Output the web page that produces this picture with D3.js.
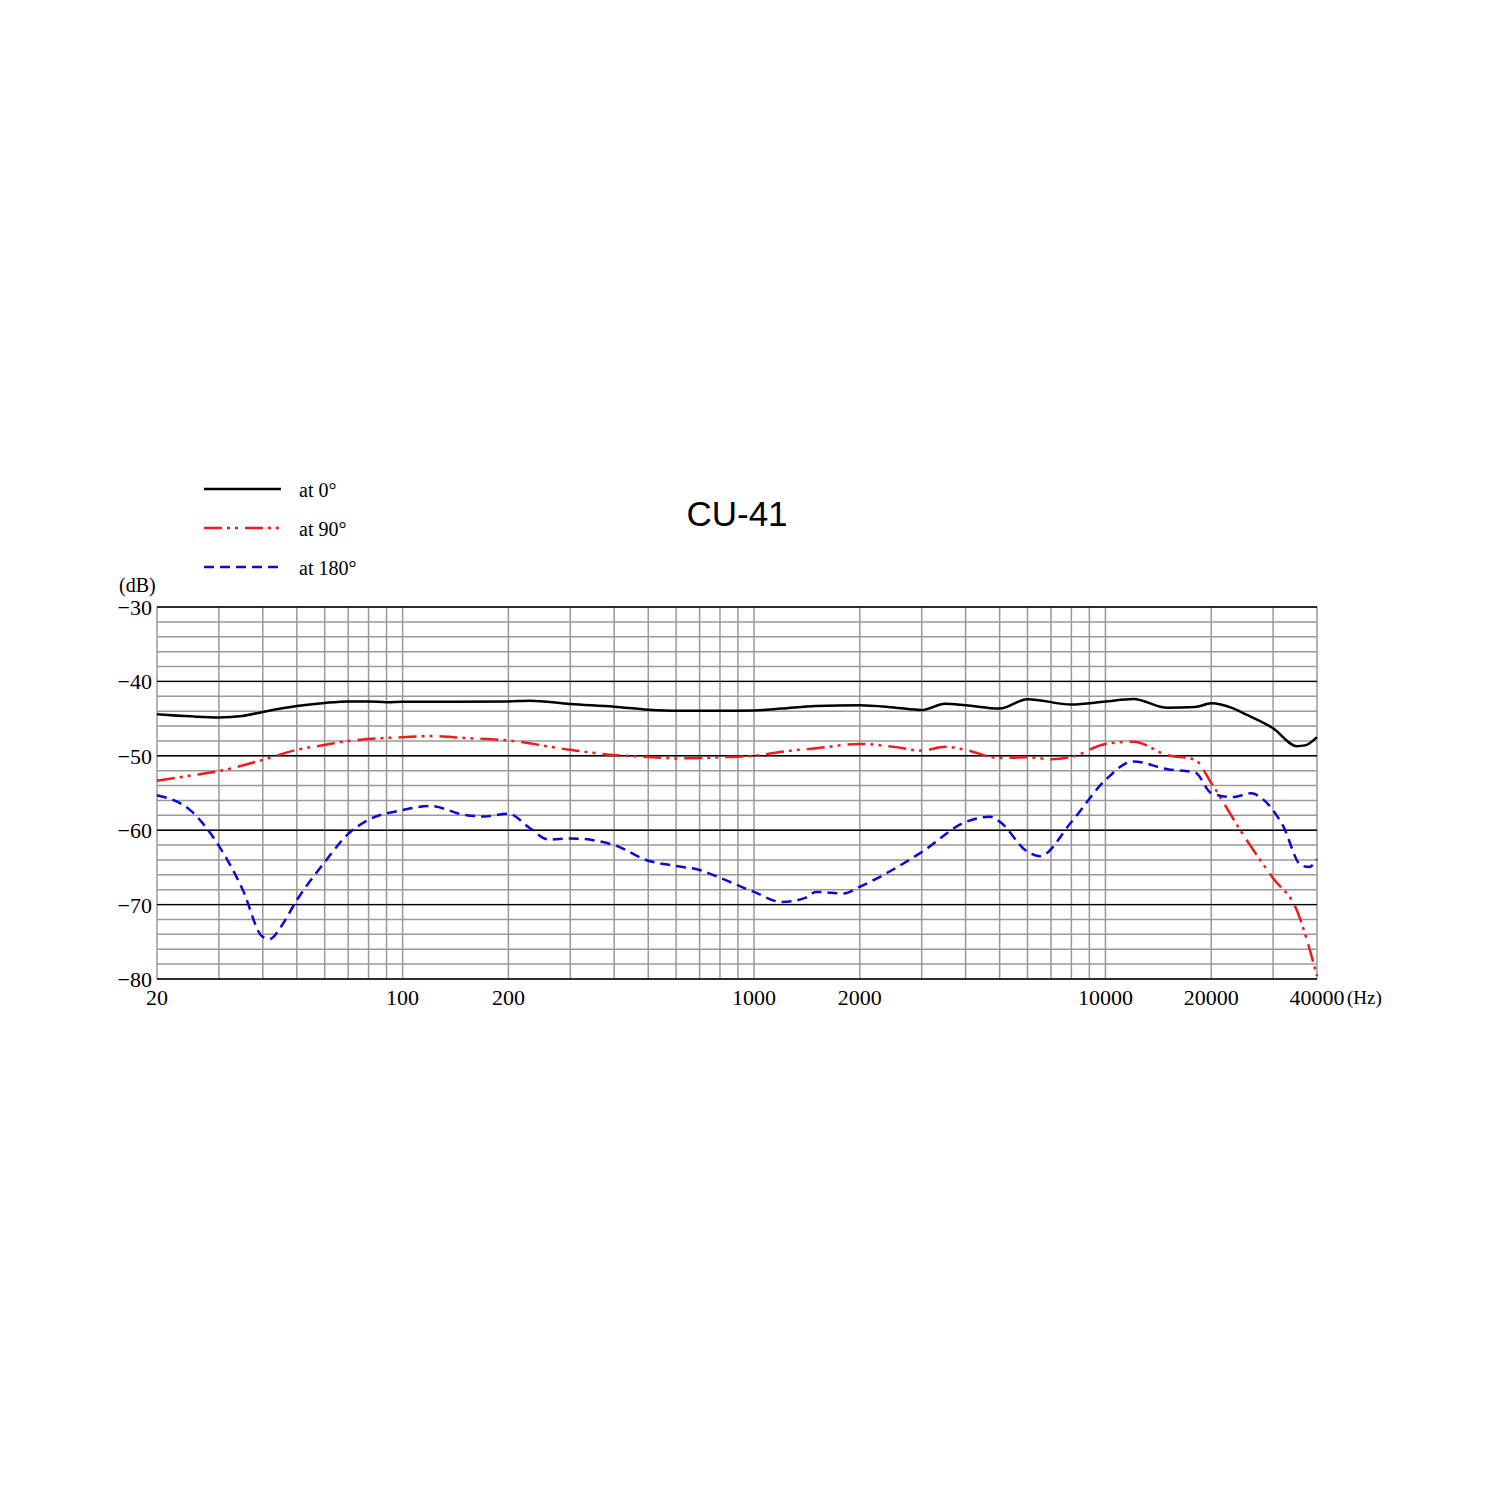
<!DOCTYPE html>
<html>
<head>
<meta charset="utf-8">
<script src="https://cdn.jsdelivr.net/npm/d3@7"></script>
<style>
  body { margin: 0; background: #fff; }
  svg { display: block; }
</style>
</head>
<body>
<svg id="chart" width="1500" height="1500"></svg>
<script>
// Data (frequency in Hz, level in dB)
const freq0 = [20, 25, 30, 35, 40, 50, 60, 70, 80, 90, 100, 200, 230, 300, 400, 500, 600, 800, 1000, 1200, 1500, 2000, 2500, 3000, 3500, 4000, 5000, 6000, 8000, 10000, 12000, 15000, 18000, 20000, 23000, 25000, 30000, 35000, 37000, 40000];
const db0 = [-44.4, -44.7, -44.85, -44.65, -44.1, -43.3, -42.9, -42.7, -42.7, -42.8, -42.75, -42.7, -42.6, -43.05, -43.4, -43.8, -43.95, -43.95, -43.9, -43.65, -43.3, -43.2, -43.5, -43.85, -43.0, -43.2, -43.65, -42.4, -43.1, -42.7, -42.35, -43.55, -43.45, -42.95, -43.6, -44.4, -46.3, -48.7, -48.6, -47.5];

const freq90 = [20, 25, 30, 40, 50, 60, 70, 80, 100, 120, 150, 200, 300, 400, 500, 600, 800, 1000, 1200, 1500, 2000, 2500, 3000, 3500, 4000, 5000, 6000, 7000, 8000, 10000, 12000, 15000, 18000, 20000, 25000, 30000, 35000, 40000];
const db90 = [-53.35, -52.65, -52.05, -50.55, -49.2, -48.55, -48.0, -47.75, -47.5, -47.35, -47.6, -47.95, -49.2, -49.9, -50.15, -50.35, -50.2, -50.0, -49.45, -49.0, -48.4, -48.8, -49.3, -48.8, -49.2, -50.3, -50.2, -50.45, -50.15, -48.4, -48.1, -49.9, -50.55, -53.65, -61.05, -66.45, -70.7, -79.6];

const freq180 = [20, 25, 30, 35, 40, 42, 45, 50, 60, 70, 80, 100, 120, 150, 170, 200, 230, 260, 300, 400, 500, 600, 700, 800, 1000, 1200, 1400, 1500, 1800, 2000, 3000, 4000, 4700, 5000, 6000, 6500, 8000, 10000, 12000, 15000, 18000, 20000, 23000, 26000, 28000, 32000, 36000, 38000, 40000];
const db180 = [-55.3, -57.4, -62.1, -67.9, -74.35, -74.6, -73.0, -69.4, -64.3, -60.5, -58.6, -57.3, -56.75, -57.95, -58.15, -57.8, -59.7, -61.25, -61.1, -62.0, -64.1, -64.8, -65.35, -66.4, -68.3, -69.65, -69.1, -68.3, -68.5, -67.6, -62.95, -58.9, -58.2, -58.85, -62.9, -63.5, -58.9, -53.25, -50.75, -51.8, -52.25, -55.0, -55.55, -55.05, -55.8, -59.4, -64.7, -64.95, -63.9];

const seriesNames = ["at 0°", "at 90°", "at 180°"];
const xTickLabels = [20, 100, 200, 1000, 2000, 10000, 20000, 40000];
const yTickLabels = [-30, -40, -50, -60, -70, -80];

const svg = d3.select("#chart");
const plotL = 157, plotR = 1317, plotT = 607, plotB = 979;

const x = d3.scaleLog().domain([20, 40000]).range([plotL, plotR]);
const y = d3.scaleLinear().domain([-80, -30]).range([plotB, plotT]);

const serif = "'Liberation Serif', 'DejaVu Serif', serif";

// grid: vertical lines at 1..9 x each decade
const vLines = [];
[10, 100, 1000, 10000].forEach(dec => {
  for (let m = 1; m <= 9; m++) {
    const f = dec * m;
    if (f >= 20 && f <= 40000) vLines.push(f);
  }
});

const grid = svg.append("g");
grid.selectAll(".hminor")
  .data(d3.range(-80, -29, 2))
  .join("line")
    .attr("x1", plotL).attr("x2", plotR)
    .attr("y1", d => y(d)).attr("y2", d => y(d))
    .attr("stroke", "#9a9a9a")
    .attr("stroke-width", 1.5);

grid.selectAll(".v")
  .data(vLines)
  .join("line")
    .attr("x1", d => x(d)).attr("x2", d => x(d))
    .attr("y1", plotT).attr("y2", plotB)
    .attr("stroke", "#9a9a9a")
    .attr("stroke-width", 1.5);

// black majors on top
grid.selectAll(".hmajor")
  .data(yTickLabels)
  .join("line")
    .attr("x1", plotL).attr("x2", plotR)
    .attr("y1", d => y(d)).attr("y2", d => y(d))
    .attr("stroke", "#000")
    .attr("stroke-width", 1.4);

// y tick labels
svg.append("g").selectAll("text")
  .data(yTickLabels)
  .join("text")
    .attr("x", 152)
    .attr("y", d => y(d) + 8)
    .attr("text-anchor", "end")
    .attr("font-family", serif)
    .attr("font-size", 22)
    .text(d => "\u2212" + Math.abs(d));

svg.append("text")
  .attr("x", 119).attr("y", 592)
  .attr("font-family", serif).attr("font-size", 20)
  .text("(dB)");

// x tick labels
svg.append("g").selectAll("text")
  .data(xTickLabels)
  .join("text")
    .attr("x", d => x(d))
    .attr("y", plotB + 26)
    .attr("text-anchor", "middle")
    .attr("font-family", serif)
    .attr("font-size", 22)
    .text(d => d);

svg.append("text")
  .attr("x", 1347).attr("y", plotB + 25)
  .attr("font-family", serif).attr("font-size", 19)
  .text("(Hz)");

// title
svg.append("text")
  .attr("x", 737).attr("y", 526)
  .attr("text-anchor", "middle")
  .attr("font-family", "'Liberation Sans', Arial, sans-serif")
  .attr("font-size", 35)
  .text("CU-41");

// curves
const styles = [
  {color: "#000", dash: null},
  {color: "#ee1c1c", dash: "18 5 3 5 3 7"},
  {color: "#0a0ad6", dash: "10 6"}
];
const series = [
  {f: freq0, v: db0},
  {f: freq90, v: db90},
  {f: freq180, v: db180}
];

const line = d3.line()
  .x(d => x(d[0]))
  .y(d => y(d[1]))
  .curve(d3.curveMonotoneX);

series.forEach((s, i) => {
  svg.append("path")
    .datum(s.f.map((f, j) => [f, s.v[j]]))
    .attr("d", line)
    .attr("fill", "none")
    .attr("stroke", styles[i].color)
    .attr("stroke-width", 2.5)
    .attr("stroke-dasharray", styles[i].dash);
});

// legend
const lg = svg.append("g");
seriesNames.forEach((name, i) => {
  const ly = 489 + i * 39;
  lg.append("line")
    .attr("x1", 204).attr("x2", 281)
    .attr("y1", ly).attr("y2", ly)
    .attr("stroke", styles[i].color)
    .attr("stroke-width", 2.5)
    .attr("stroke-dasharray", styles[i].dash);
  lg.append("text")
    .attr("x", 299).attr("y", ly + 8)
    .attr("font-family", serif).attr("font-size", 20)
    .text(name);
});
</script>
</body>
</html>
